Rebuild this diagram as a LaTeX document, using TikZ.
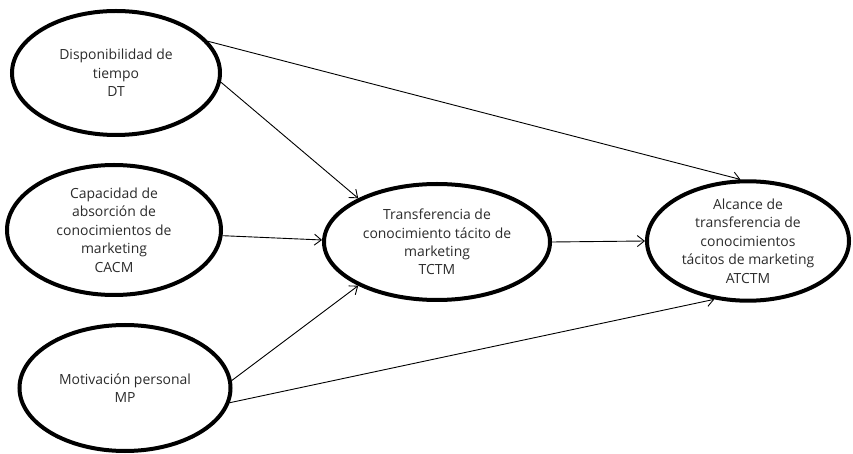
\documentclass[tikz,border=0pt]{standalone}
\usepackage{fontspec}
\setmainfont{Open Sans}
\usetikzlibrary{shapes.geometric,arrows.meta}
\definecolor{txt}{HTML}{2B2B2B}
\begin{document}
\begin{tikzpicture}[x=1bp,y=1bp,
  var/.style={ellipse,draw,line width=4bp,inner sep=0pt,align=center,text=txt,
    font=\fontsize{14}{18.5}\selectfont},
  link/.style={line width=0.9bp,-{Straight Barb[length=7bp,width=11bp]}}]
\useasboundingbox (0,0) rectangle (853,-454);
\node[var,minimum width=208bp,minimum height=124bp] (dt) at (116,-73) {Disponibilidad de\\tiempo\\DT};
\node[var,minimum width=214bp,minimum height=130bp] (cacm) at (114,-230) {Capacidad de\\absorción de\\conocimientos de\\marketing\\CACM};
\node[var,minimum width=211bp,minimum height=126bp] (mp) at (125,-388) {Motivación personal\\MP};
\node[var,minimum width=226bp,minimum height=116bp] (tctm) at (437,-242) {Transferencia de\\conocimiento tácito de\\marketing\\TCTM};
\node[var,minimum width=202bp,minimum height=108bp] (at) at (748,-241) {Alcance de\\transferencia de\\conocimientos\\tácitos de marketing\\ATCTM};
\draw[link] (dt.19) -- (at.97);
\draw[link] (dt.-5) -- (tctm.151);
\draw[link] (cacm.-3) -- (tctm.179);
\draw[link] (mp.4) -- (tctm.209);
\draw[link] (mp.-8) -- (at.240);
\draw[link] (tctm.0) -- (at.180);
\end{tikzpicture}
\end{document}
